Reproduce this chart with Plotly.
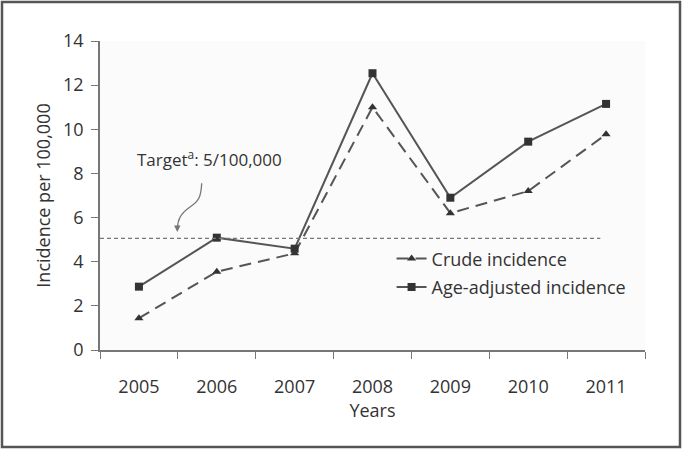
import plotly.graph_objects as go

years = ["2005", "2006", "2007", "2008", "2009", "2010", "2011"]
crude = [1.44, 3.55, 4.38, 11.0, 6.2, 7.2, 9.77]
age_adjusted = [2.87, 5.09, 4.59, 12.54, 6.9, 9.44, 11.15]
target = 5.06
y_ticks = [0, 2, 4, 6, 8, 10, 12, 14]

FONT = "Open Sans"
TXT = "#333333"
FS = 18

fig = go.Figure()
fig.add_trace(go.Scatter(
    x=years, y=crude, mode="lines+markers", name="Crude incidence",
    line=dict(color="#555555", width=2, dash="12px,7px"),
    marker=dict(symbol="triangle-up", size=8, color="#333333"),
    legendgroup="a",
))
fig.add_trace(go.Scatter(
    x=years, y=age_adjusted, mode="lines+markers", name="Age-adjusted incidence",
    line=dict(color="#555555", width=2),
    marker=dict(symbol="square", size=8, color="#333333"),
    legendgroup="b",
))

# target line
fig.add_shape(type="line", xref="paper", yref="y", x0=0, x1=0.918, y0=target, y1=target,
              line=dict(color="#777777", width=1.2, dash="4px,3px"))

# squiggle arrow
def px(xp):
    return (xp - 100) / 545
def py(yp):
    return (350 - yp) / 309

path = (f"M {px(201.7)},{py(183.3)} C {px(201)},{py(197)} {px(199)},{py(201)} {px(190)},{py(207)} "
        f"C {px(180)},{py(214)} {px(177.5)},{py(220)} {px(177.5)},{py(229)}")
fig.add_shape(type="path", xref="paper", yref="paper", path=path,
              line=dict(color="#777777", width=1.3))
fig.add_annotation(x=px(177.3), y=py(232), xref="paper", yref="paper",
                   ax=0, ay=-8, axref="pixel", ayref="pixel",
                   text="", showarrow=True, arrowhead=2, arrowsize=1, arrowwidth=1.3,
                   arrowcolor="#777777")
fig.add_annotation(x=px(209), y=py(158), xref="paper", yref="paper",
                   xanchor="center", yanchor="middle",
                   text="Target<sup>a</sup>: 5/100,000", showarrow=False,
                   font=dict(family=FONT, size=17, color=TXT))

# outer border
fig.add_shape(type="rect", xref="paper", yref="paper",
              x0=px(2), x1=px(680), y0=py(447), y1=py(2),
              line=dict(color="#555555", width=2.5))

fig.update_layout(
    width=682, height=450,
    margin=dict(l=100, r=37, t=41, b=100, autoexpand=False),
    paper_bgcolor="white", plot_bgcolor="#fbfbfb",
    font=dict(family=FONT, size=FS, color=TXT),
    showlegend=True,
    legend=dict(x=0.535, y=0.355, xanchor="left", yanchor="top",
                bgcolor="rgba(0,0,0,0)", font=dict(size=FS, color=TXT),
                tracegroupgap=2, itemwidth=30),
    xaxis=dict(type="category", tickson="boundaries", ticks="outside", ticklen=7,
               tickcolor="#777777", showline=True, linecolor="#777777", linewidth=1.5,
               showgrid=False, zeroline=False, ticklabelstandoff=20, automargin=False,
               tickfont=dict(size=FS),
               title=dict(text="Years", standoff=6, font=dict(size=FS)),
               range=[-0.5, 6.5]),
    yaxis=dict(range=[0, 14], tickvals=y_ticks, ticks="outside", ticklen=7,
               tickcolor="#777777", showline=True, linecolor="#777777", linewidth=1.5,
               showgrid=False, zeroline=False, ticklabelstandoff=4, automargin=False,
               tickfont=dict(size=FS),
               title=dict(text="Incidence per 100,000", standoff=8, font=dict(size=FS))),
)

fig.write_html("out.html", config={"displayModeBar": False},
               post_script="document.body.style.margin='0';")
